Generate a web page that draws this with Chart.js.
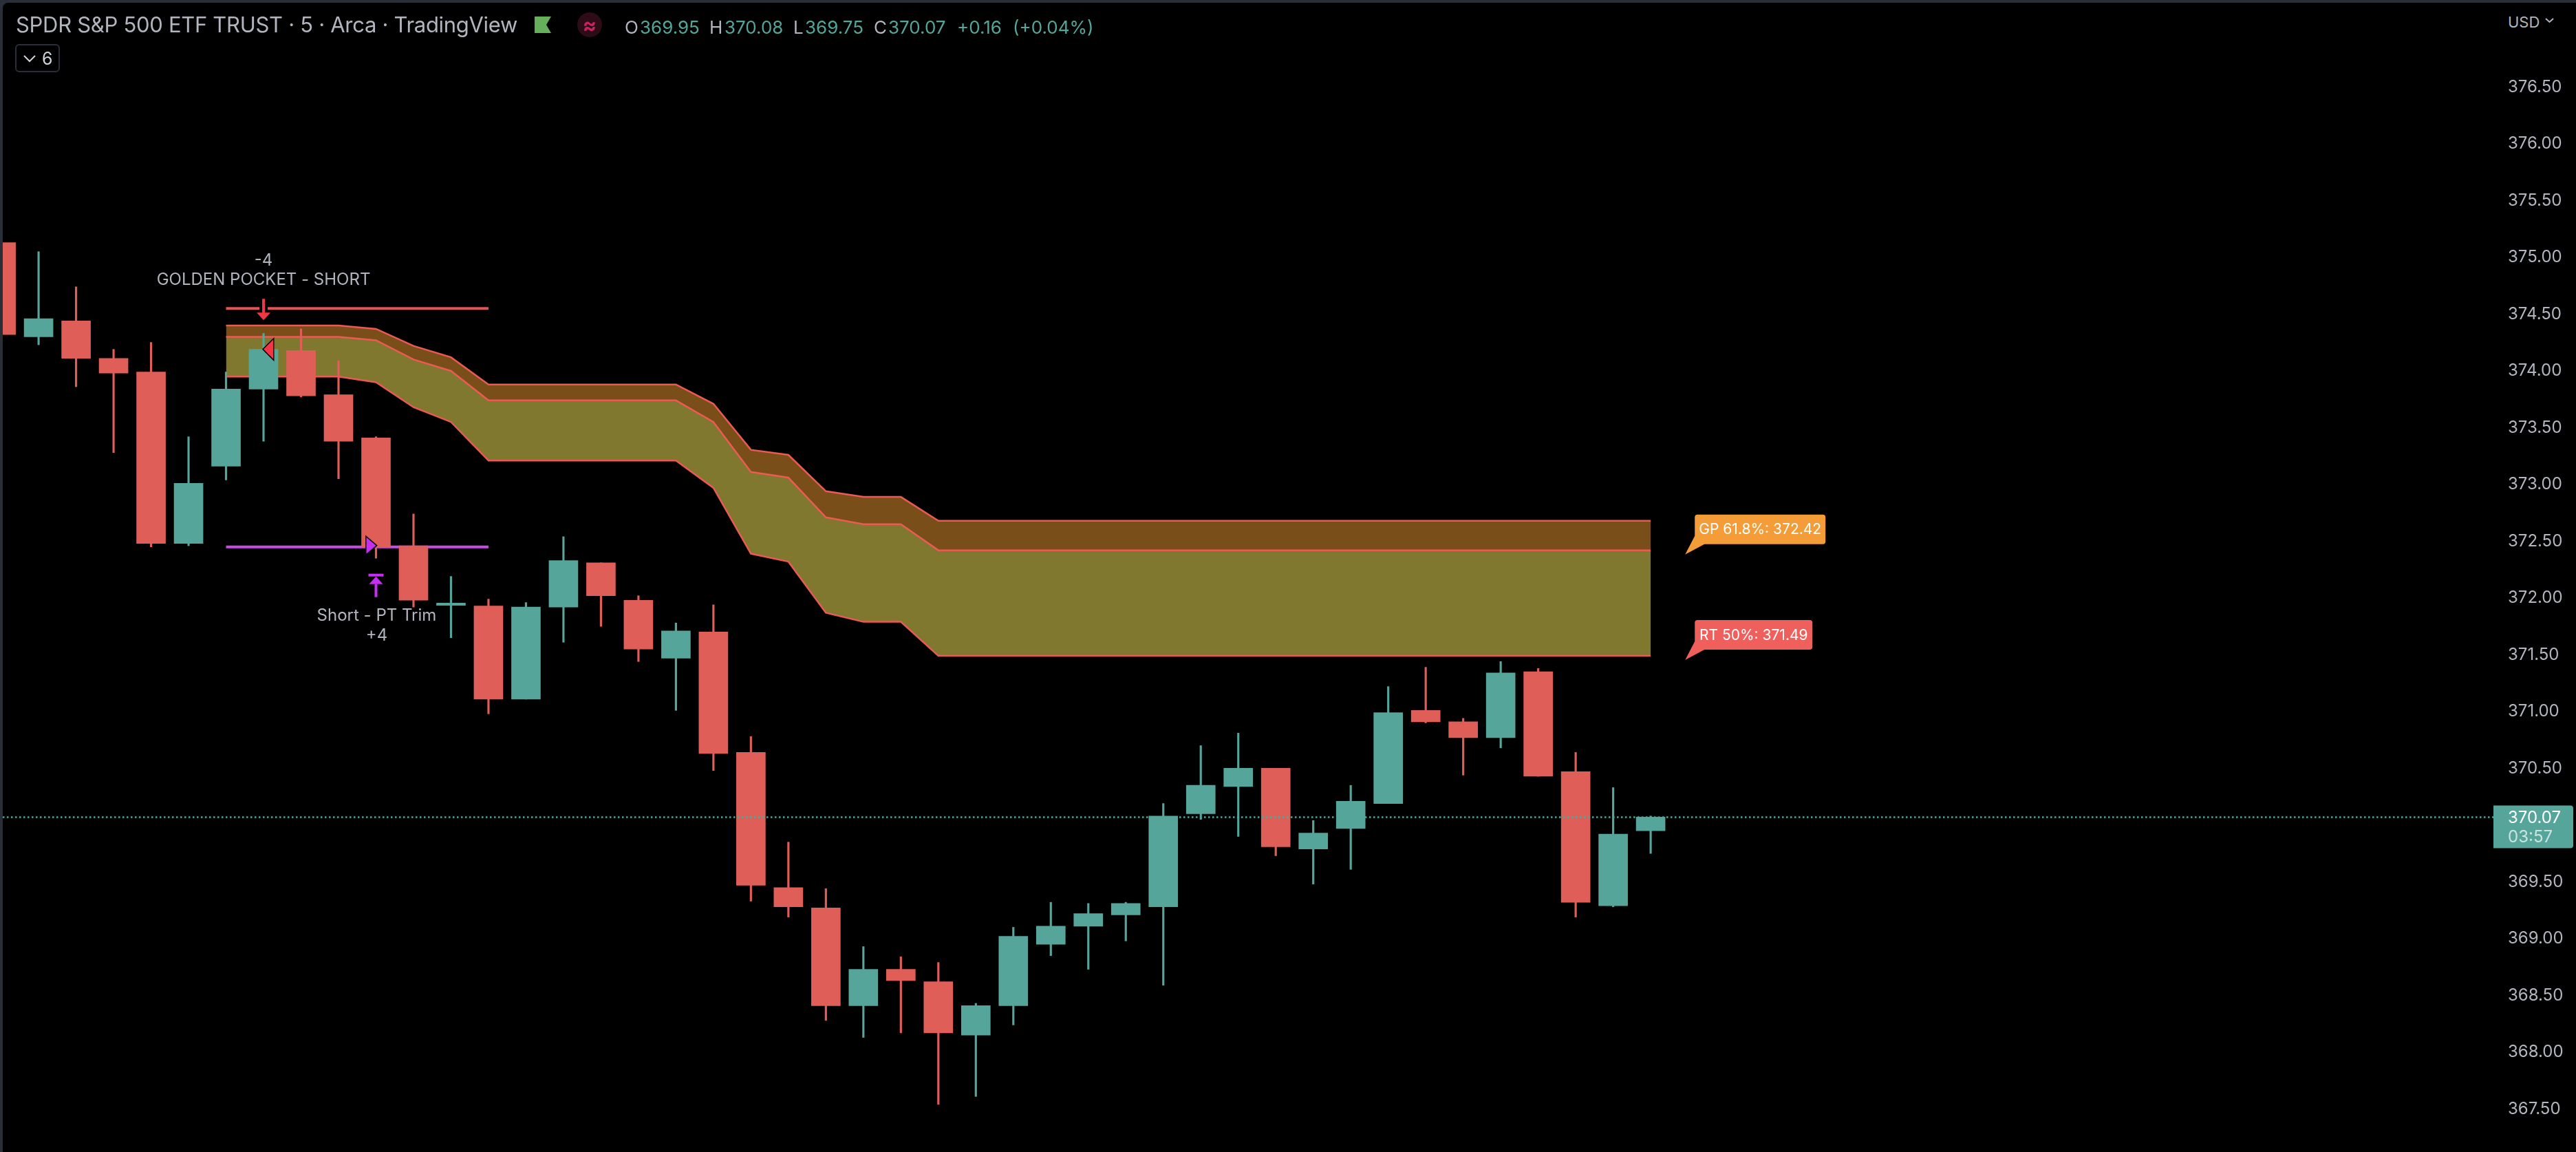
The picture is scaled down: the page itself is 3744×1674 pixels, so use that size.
<!DOCTYPE html>
<html>
<head>
<meta charset="utf-8">
<title>SPY 5m</title>
<script src="https://cdn.jsdelivr.net/npm/chart.js@4"></script>
<style>
html, body { margin: 0; padding: 0; width: 3744px; height: 1674px; background: #2a2e39; overflow: hidden; font-family: Inter, sans-serif; }
#pane { position: absolute; left: 4px; top: 4px; width: 3740px; height: 1670px; background: #000; border-top-left-radius: 8px; overflow: hidden; }
#pane canvas { display: block; }
.h { position: absolute; white-space: nowrap; line-height: 1; }
.grey { color: #b2b5be; }
.up { color: #55a59b; }
</style>
</head>
<body>
<div id="pane"><canvas id="spyChart" width="3740" height="1670"></canvas></div>

<div class="h grey" style="left:23px;top:20px;font-size:31px;letter-spacing:-0.3px;">SPDR S&amp;P 500 ETF TRUST · 5 · Arca · TradingView</div>
<svg class="h" style="left:777px;top:24px" width="25" height="25"><polygon points="0,0 24,0 17,12 24,24 0,24" fill="#66af5b"/></svg>
<svg class="h" style="left:839px;top:18px" width="36" height="36"><circle cx="18" cy="18" r="18" fill="#2d0c18"/></svg>
<div class="h" style="left:839px;top:18px;width:36px;text-align:center;font-size:30px;line-height:36px;font-weight:700;color:#c9235e;">≈</div>

<div class="h grey" style="left:908px;top:27px;font-size:26px;">O</div>
<div class="h up" style="left:930px;top:27px;font-size:26px;">369.95</div>
<div class="h grey" style="left:1031px;top:27px;font-size:26px;">H</div>
<div class="h up" style="left:1053px;top:27px;font-size:26px;">370.08</div>
<div class="h grey" style="left:1153px;top:27px;font-size:26px;">L</div>
<div class="h up" style="left:1170px;top:27px;font-size:26px;">369.75</div>
<div class="h grey" style="left:1270px;top:27px;font-size:26px;">C</div>
<div class="h up" style="left:1291px;top:27px;font-size:26px;">370.07</div>
<div class="h up" style="left:1391px;top:27px;font-size:26px;">+0.16</div>
<div class="h up" style="left:1472px;top:27px;font-size:26px;">(+0.04%)</div>

<div class="h" style="left:22px;top:64px;width:61px;height:37px;border:2px solid #2a2e39;border-radius:6px;"></div>
<svg class="h" style="left:34px;top:79px" width="18" height="12"><polyline points="1,2 9,10 17,2" fill="none" stroke="#d1d4dc" stroke-width="2"/></svg>
<div class="h" style="left:61px;top:73px;font-size:25px;color:#d1d4dc;">6</div>

<div class="h" style="left:3624px;top:4px;width:120px;height:48px;background:#000;"></div>
<div class="h grey" style="left:3645px;top:21px;font-size:22px;">USD</div>
<svg class="h" style="left:3699px;top:26px" width="13" height="9"><polyline points="1,1 6.5,6 12,1" fill="none" stroke="#b2b5be" stroke-width="2"/></svg>

<script>
// 5 minute candles, oldest first
const opens = [375.13, 374.30, 374.44, 374.11, 373.99, 372.48, 373.16, 373.84, 374.18, 373.79, 373.41, 372.46, 371.935, 371.93, 371.11, 371.92, 372.31, 371.98, 371.47, 371.70, 370.64, 369.45, 369.27, 368.41, 368.73, 368.62, 368.15, 368.41, 368.95, 369.11, 369.21, 369.28, 370.10, 370.34, 370.50, 369.79, 369.97, 370.19, 371.01, 370.91, 370.77, 371.35, 370.47, 369.29, 369.95];
const highs = [375.13, 375.05, 374.74, 374.19, 374.25, 373.42, 373.99, 374.33, 374.37, 374.09, 373.42, 372.74, 372.19, 371.99, 371.96, 372.54, 372.31, 372.02, 371.78, 371.94, 370.78, 369.85, 369.44, 368.93, 368.84, 368.79, 368.43, 369.10, 369.32, 369.31, 369.32, 370.19, 370.70, 370.81, 370.50, 370.04, 370.35, 371.22, 371.39, 370.94, 371.44, 371.38, 370.64, 370.33, 370.08];
const lows = [374.32, 374.23, 373.86, 373.28, 372.45, 372.46, 373.04, 373.38, 373.77, 373.05, 372.35, 371.92, 371.65, 370.98, 371.11, 371.61, 371.75, 371.44, 371.01, 370.48, 369.33, 369.19, 368.28, 368.13, 368.17, 367.54, 367.61, 368.24, 368.85, 368.73, 368.98, 368.59, 370.05, 369.90, 369.73, 369.48, 369.61, 370.19, 370.90, 370.44, 370.68, 370.43, 369.19, 369.28, 369.75];
const closes = [374.32, 374.46, 374.11, 373.98, 372.48, 373.01, 373.84, 374.19, 373.78, 373.38, 372.45, 371.98, 371.955, 371.11, 371.92, 372.33, 372.02, 371.55, 371.71, 370.63, 369.47, 369.28, 368.41, 368.73, 368.63, 368.17, 368.41, 369.02, 369.11, 369.22, 369.31, 370.08, 370.35, 370.50, 369.81, 369.93, 370.21, 370.99, 370.91, 370.77, 371.34, 370.43, 369.32, 369.92, 370.07];

// golden pocket channel, the bars where the lines bend
const channelBars = [6, 9, 10, 11, 12, 13, 18, 19, 20, 21, 22, 23, 24, 25, 44];
const channelTop = [374.40, 374.40, 374.37, 374.22, 374.12, 373.88, 373.88, 373.71, 373.305, 373.26, 372.94, 372.89, 372.89, 372.68, 372.68];
const channelMid = [374.30, 374.30, 374.27, 374.10, 374.00, 373.74, 373.74, 373.55, 373.11, 373.06, 372.71, 372.65, 372.65, 372.42, 372.42];
const channelBottom = [373.95, 373.95, 373.90, 373.68, 373.55, 373.21, 373.21, 372.97, 372.39, 372.32, 371.87, 371.79, 371.79, 371.49, 371.49];

const priceTicks = [367.5, 368, 368.5, 369, 369.5, 370, 370.5, 371, 371.5, 372, 372.5, 373, 373.5, 374, 374.5, 375, 375.5, 376, 376.5, 377];
const lastPrice = 370.07;
const countdown = '03:57';

const tradeBars = [6, 13];
const shortPrice = 374.55;
const trimPrice = 372.45;
const entryBar = 7;
const entryFill = 374.19;
const exitBar = 10;
const gpLevel = 372.42;
const rtLevel = 371.49;

const TEAL = '#55a59b';
const RED = '#e05e58';
const candleColors = opens.map((o, i) => closes[i] >= o ? TEAL : RED);

function toLine(xs, ys) {
    return xs.map((x, i) => ({ x: x, y: ys[i] }));
}

function drawTriangle(ctx, tipX, y, baseX, half, color) {
    ctx.beginPath();
    ctx.moveTo(tipX, y);
    ctx.lineTo(baseX, y - half);
    ctx.lineTo(baseX, y + half);
    ctx.closePath();
    ctx.lineWidth = 3;
    ctx.strokeStyle = '#000';
    ctx.stroke();
    ctx.fillStyle = color;
    ctx.fill();
}

function drawCallout(ctx, tipX, tipY, boxW, color, text) {
    const left = tipX + 14, top = tipY - 58, h = 43;
    ctx.fillStyle = color;
    ctx.beginPath();
    ctx.moveTo(tipX, tipY);
    ctx.lineTo(left, top + 31);
    ctx.lineTo(left, top + 4);
    ctx.quadraticCurveTo(left, top, left + 4, top);
    ctx.lineTo(left + boxW - 4, top);
    ctx.quadraticCurveTo(left + boxW, top, left + boxW, top + 4);
    ctx.lineTo(left + boxW, top + h - 4);
    ctx.quadraticCurveTo(left + boxW, top + h, left + boxW - 4, top + h);
    ctx.lineTo(left + 14, top + h);
    ctx.closePath();
    ctx.fill();
    ctx.fillStyle = '#fff';
    ctx.font = '21px Inter';
    ctx.textAlign = 'center';
    ctx.textBaseline = 'middle';
    ctx.fillText(text, left + boxW / 2, top + h / 2 + 1);
}

// trade marks, text labels and the price tag, placed from the scales
const overlayPlugin = {
    id: 'overlay',
    afterDraw(chart) {
        const ctx = chart.ctx;
        const xs = chart.scales.x;
        const ys = chart.scales.y;
        ctx.save();

        // short entry
        const ex = xs.getPixelForValue(entryBar);
        const sy = ys.getPixelForValue(shortPrice);
        ctx.fillStyle = '#000';
        ctx.fillRect(ex - 6, sy - 13, 12, 17);
        ctx.fillStyle = '#f23645';
        ctx.fillRect(ex - 2, sy - 14, 4, 22);
        ctx.beginPath();
        ctx.moveTo(ex - 10, sy + 6);
        ctx.lineTo(ex + 10, sy + 6);
        ctx.lineTo(ex, sy + 17);
        ctx.closePath();
        ctx.fill();
        drawTriangle(ctx, ex, ys.getPixelForValue(entryFill), ex + 14, 14, '#f23645');

        // trim
        const tx = xs.getPixelForValue(exitBar);
        const ty = ys.getPixelForValue(trimPrice);
        drawTriangle(ctx, tx, ty - 2, tx - 14, 12, '#c62ef0');
        ctx.fillStyle = '#c62ef0';
        ctx.fillRect(tx - 11, ty + 39, 22, 4);
        ctx.beginPath();
        ctx.moveTo(tx, ty + 43);
        ctx.lineTo(tx + 10, ty + 54);
        ctx.lineTo(tx - 10, ty + 54);
        ctx.closePath();
        ctx.fill();
        ctx.fillRect(tx - 2, ty + 54, 4, 19);

        ctx.fillStyle = '#b2b5be';
        ctx.font = '24px Inter';
        ctx.textAlign = 'center';
        ctx.textBaseline = 'middle';
        ctx.fillText('-4', ex, sy - 69);
        ctx.fillText('GOLDEN POCKET - SHORT', ex, sy - 41);
        ctx.fillText('Short - PT Trim', tx + 1, ty + 100);
        ctx.fillText('+4', tx + 1, ty + 129);

        drawCallout(ctx, xs.getPixelForValue(44.92), ys.getPixelForValue(gpLevel) + 6, 190, '#f39c38', 'GP 61.8%: ' + gpLevel.toFixed(2));
        drawCallout(ctx, xs.getPixelForValue(44.92), ys.getPixelForValue(rtLevel) + 6, 171, '#ef5f5b', 'RT 50%: ' + rtLevel.toFixed(2));

        // last price tag on the axis
        const py = ys.getPixelForValue(lastPrice);
        const left = chart.chartArea.right;
        ctx.fillStyle = TEAL;
        ctx.beginPath();
        ctx.roundRect(left, py - 17, 116, 62, [0, 4, 4, 0]);
        ctx.fill();
        ctx.textAlign = 'left';
        ctx.fillStyle = '#fff';
        ctx.font = '24px Inter';
        ctx.fillText(lastPrice.toFixed(2), left + 21, py + 1);
        ctx.fillStyle = 'rgba(255,255,255,0.7)';
        ctx.fillText(countdown, left + 21, py + 29);

        ctx.restore();
    }
};

new Chart(document.getElementById('spyChart'), {
    type: 'bar',
    data: {
        datasets: [
            {
                type: 'line',
                data: toLine(channelBars, channelTop),
                borderColor: '#eb5a53',
                borderWidth: 2.5,
                pointRadius: 0,
                tension: 0,
                fill: '+1',
                backgroundColor: '#794e19',
                order: 8
            },
            {
                type: 'line',
                data: toLine(channelBars, channelMid),
                borderColor: '#eb5a53',
                borderWidth: 2.5,
                pointRadius: 0,
                tension: 0,
                fill: '+1',
                backgroundColor: '#817830',
                order: 7
            },
            {
                type: 'line',
                data: toLine(channelBars, channelBottom),
                borderColor: '#eb5a53',
                borderWidth: 2.5,
                pointRadius: 0,
                tension: 0,
                fill: false,
                order: 6
            },
            {
                type: 'line',
                data: toLine(tradeBars, [shortPrice, shortPrice]),
                borderColor: '#e8534f',
                borderWidth: 4,
                pointRadius: 0,
                order: 5
            },
            {
                type: 'line',
                data: toLine(tradeBars, [trimPrice, trimPrice]),
                borderColor: '#c94ae6',
                borderWidth: 4,
                pointRadius: 0,
                order: 5
            },
            {
                data: highs.map((h, i) => ({ x: i, y: [lows[i], h] })),
                backgroundColor: candleColors,
                barThickness: 2.5,
                grouped: false,
                order: 4
            },
            {
                data: opens.map((o, i) => ({ x: i, y: [o, closes[i]] })),
                backgroundColor: candleColors,
                barThickness: 42,
                grouped: false,
                order: 3
            },
            {
                type: 'line',
                data: toLine([0.044, 66.48], [lastPrice, lastPrice]),
                borderColor: TEAL,
                borderWidth: 2.5,
                borderDash: [2.5, 3.5],
                pointRadius: 0,
                order: 2
            }
        ]
    },
    options: {
        responsive: false,
        animation: false,
        events: [],
        layout: { padding: 0 },
        plugins: {
            legend: { display: false },
            tooltip: { enabled: false }
        },
        scales: {
            x: {
                type: 'linear',
                display: false,
                offset: false,
                min: 0.044,
                max: 66.48
            },
            y: {
                position: 'right',
                min: 367.121,
                max: 377.242,
                afterFit(axis) {
                    axis.width = 120;
                    axis.paddingTop = 0;
                    axis.paddingBottom = 0;
                },
                afterBuildTicks(axis) { axis.ticks = priceTicks.map(v => ({ value: v })); },
                grid: { display: false, drawTicks: false },
                border: { display: false },
                ticks: {
                    color: '#b2b5be',
                    padding: 21,
                    autoSkip: false,
                    font: { family: 'Inter', size: 24 },
                    callback: v => v.toFixed(2)
                }
            }
        }
    },
    plugins: [overlayPlugin]
});
</script>
</body>
</html>
